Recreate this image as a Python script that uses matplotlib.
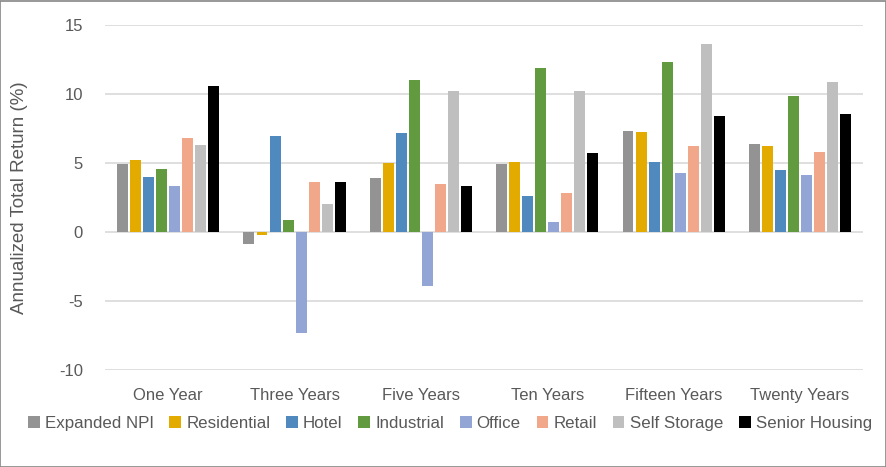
import numpy as np
import matplotlib
matplotlib.use("Agg")
from matplotlib import pyplot as plt
from matplotlib.patches import Rectangle

periods = ["One Year", "Three Years", "Five Years", "Ten Years", "Fifteen Years", "Twenty Years"]

expanded_npi = [4.9, -0.9, 3.9, 4.9, 7.35, 6.35]
residential = [5.25, -0.25, 5.0, 5.1, 7.25, 6.2]
hotel = [4.0, 6.95, 7.2, 2.6, 5.1, 4.5]
industrial = [4.55, 0.9, 11.0, 11.9, 12.35, 9.85]
office = [3.35, -7.35, -3.9, 0.7, 4.25, 4.1]
retail = [6.8, 3.65, 3.5, 2.8, 6.2, 5.8]
self_storage = [6.3, 2.05, 10.2, 10.2, 13.65, 10.9]
senior_housing = [10.55, 3.6, 3.3, 5.7, 8.4, 8.55]

series_names = ["Expanded NPI", "Residential", "Hotel", "Industrial", "Office",
                "Retail", "Self Storage", "Senior Housing"]
series = [expanded_npi, residential, hotel, industrial, office, retail,
          self_storage, senior_housing]
colors = ["#939393", "#E3AB00", "#4F89BD", "#629A40", "#92A5D4", "#F1A88A",
          "#BFBFBF", "#000000"]

plt.rcParams['font.family'] = ['Liberation Sans', 'DejaVu Sans']
plt.rcParams['axes.unicode_minus'] = False

fig = plt.figure(figsize=(8.87, 4.67), dpi=100)
ax = fig.add_axes([0.1184, 0.2077, 0.8546, 0.7388])

x = np.arange(len(periods))
step = 0.103
width = 0.087
for i, (name, vals, c) in enumerate(zip(series_names, series, colors)):
    ax.bar(x + (i - 3.5) * step, vals, width, color=c, label=name, zorder=3)

ax.set_xlim(-0.5, len(periods) - 0.5)
ax.set_ylim(-10, 15)
ax.set_yticks([-10, -5, 0, 5, 10, 15])
ax.set_xticks(x)
ax.set_xticklabels(periods)
ax.grid(axis='y', color='#D9D9D9', linewidth=1.2, zorder=0)
for s in ax.spines.values():
    s.set_visible(False)
ax.tick_params(axis='both', length=0, labelsize=12, labelcolor='#595959')
ax.tick_params(axis='y', pad=16)
ax.tick_params(axis='x', pad=13)
ax.set_ylabel("Annualized Total Return (%)", fontsize=13.5, color='#595959')
ax.yaxis.set_label_coords(-0.101, 0.5)

fig.legend(loc='center', bbox_to_anchor=(0.507, 0.094), ncol=8, frameon=False,
           fontsize=12.2, handlelength=0.7, handleheight=0.7, handletextpad=0.3,
           columnspacing=0.93, labelcolor='#595959')

fig.patches.append(Rectangle((0.0005, 0.001), 0.998, 0.997, transform=fig.transFigure,
                             fill=False, edgecolor='#868686', linewidth=1.2))

plt.savefig("out.png", dpi=100)
